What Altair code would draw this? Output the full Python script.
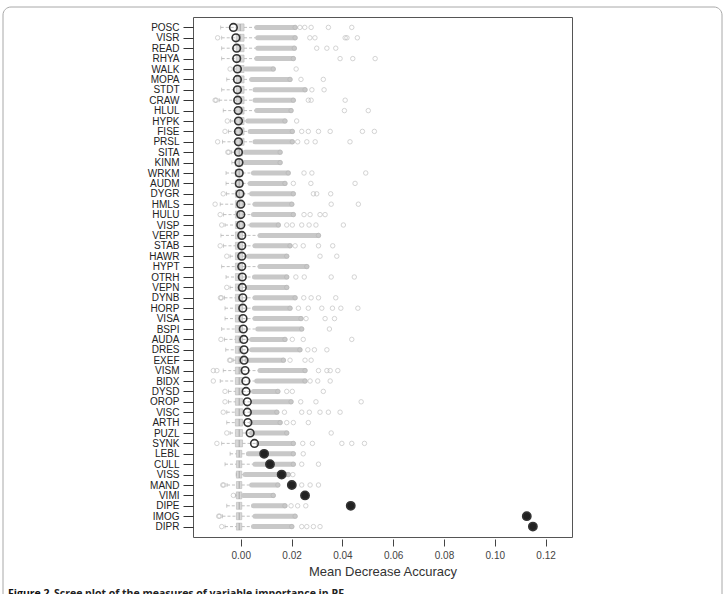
import altair as alt
import pandas as pd

# Variables, top to bottom
names = ["POSC", "VISR", "READ", "RHYA", "WALK", "MOPA", "STDT", "CRAW", "HLUL",
         "HYPK", "FISE", "PRSL", "SITA", "KINM", "WRKM", "AUDM", "DYGR", "HMLS",
         "HULU", "VISP", "VERP", "STAB", "HAWR", "HYPT", "OTRH", "VEPN", "DYNB",
         "HORP", "VISA", "BSPI", "AUDA", "DRES", "EXEF", "VISM", "BIDX", "DYSD",
         "OROP", "VISC", "ARTH", "PUZL", "SYNK", "LEBL", "CULL", "VISS", "MAND",
         "VIMI", "DIPE", "IMOG", "DIPR"]

# Observed importance (large circles); filled for the highlighted variables
observed = [-0.0029, -0.0019, -0.0016, -0.0016, -0.0013, -0.0013, -0.0013, -0.0012, -0.0010,
            -0.0009, -0.0009, -0.0009, -0.0009, -0.0007, -0.0006, -0.0006, -0.0003, 0.0000,
            0.0000, 0.0000, 0.0004, 0.0004, 0.0004, 0.0004, 0.0006, 0.0006, 0.0008,
            0.0008, 0.0009, 0.0010, 0.0012, 0.0013, 0.0013, 0.0017, 0.0020, 0.0021,
            0.0026, 0.0026, 0.0028, 0.0037, 0.0054, 0.0092, 0.0115, 0.0161, 0.0201,
            0.0253, 0.0433, 0.1126, 0.1150]
highlighted = ["LEBL", "CULL", "VISS", "MAND", "VIMI", "DIPE", "IMOG", "DIPR"]

# Box statistics of the permutation distributions
box_q1 = [-0.0018] * 12 + [-0.0021] * 29 + [-0.0017] * 8
box_median = [-0.0002] * 12 + [-0.0006] * 29 + [-0.0006] * 8
box_q3 = [0.0013] * 12 + [0.0007] * 29 + [0.0004] * 8

whisker_lo = [-0.0079, -0.0075, -0.0075, -0.0075, -0.0030, -0.0055, -0.0075, -0.0085, -0.0069,
              -0.0040, -0.0048, -0.0072, -0.0036, -0.0035, -0.0058, -0.0058, -0.0056, -0.0081,
              -0.0068, -0.0062, -0.0078, -0.0068, -0.0042, -0.0075, -0.0058, -0.0042, -0.0064,
              -0.0062, -0.0062, -0.0075, -0.0064, -0.0059, -0.0030, -0.0069, -0.0081, -0.0048,
              -0.0048, -0.0055, -0.0055, -0.0042, -0.0075, -0.0042, -0.0062, -0.0018, -0.0054,
              -0.0020, -0.0055, -0.0072, -0.0062]
whisker_hi = [0.0057, 0.0061, 0.0061, 0.0057, 0.0014, 0.0037, 0.0050, 0.0050, 0.0057,
              0.0022, 0.0031, 0.0050, 0.0014, 0.0014, 0.0044, 0.0031, 0.0037, 0.0050,
              0.0044, 0.0037, 0.0070, 0.0050, 0.0024, 0.0070, 0.0048, 0.0022, 0.0050,
              0.0048, 0.0050, 0.0061, 0.0037, 0.0037, 0.0018, 0.0070, 0.0057, 0.0044,
              0.0044, 0.0037, 0.0037, 0.0037, 0.0063, 0.0024, 0.0050, 0.0014, 0.0037,
              0.0014, 0.0044, 0.0050, 0.0044]

# Runs of overlapping high outliers
dense_lo = [0.0063, 0.0067, 0.0067, 0.0063, 0.0020, 0.0043, 0.0056, 0.0056, 0.0063,
            0.0028, 0.0037, 0.0056, 0.0017, 0.0014, 0.0050, 0.0037, 0.0043, 0.0056,
            0.0050, 0.0043, 0.0076, 0.0056, 0.0030, 0.0076, 0.0054, 0.0028, 0.0056,
            0.0054, 0.0056, 0.0067, 0.0043, 0.0043, 0.0024, 0.0076, 0.0063, 0.0050,
            0.0050, 0.0043, 0.0043, 0.0043, 0.0069, 0.0030, 0.0056, 0.0017, 0.0043,
            0.0010, 0.0050, 0.0056, 0.0050]
dense_hi = [0.0214, 0.0214, 0.0211, 0.0207, 0.0128, 0.0194, 0.0253, 0.0207, 0.0198,
            0.0174, 0.0203, 0.0203, 0.0155, 0.0155, 0.0187, 0.0174, 0.0207, 0.0201,
            0.0207, 0.0148, 0.0306, 0.0194, 0.0181, 0.0260, 0.0181, 0.0181, 0.0214,
            0.0194, 0.0237, 0.0240, 0.0174, 0.0233, 0.0168, 0.0253, 0.0253, 0.0146,
            0.0198, 0.0142, 0.0155, 0.0181, 0.0207, 0.0207, 0.0207, 0.0187, 0.0146,
            0.0128, 0.0174, 0.0214, 0.0201]

low_outliers = [[], [-0.0091], [], [], [-0.0042], [], [], [-0.0101, -0.0097], [],
                [-0.0053], [-0.0062], [-0.0091], [-0.0051, -0.0047], [], [], [], [-0.0069], [-0.0101],
                [-0.0081], [-0.0075], [], [-0.0081], [-0.0055], [], [], [-0.0055], [-0.0080, -0.0076],
                [], [], [], [-0.0078], [], [-0.0044, -0.0040], [-0.0108, -0.0094], [-0.0108], [-0.0062],
                [-0.0062], [-0.0069], [], [-0.0055], [-0.0094], [], [], [], [-0.0071, -0.0067],
                [-0.0029], [], [-0.0087, -0.0083], [-0.0075]]

high_outliers = [
    [0.0233, 0.0252, 0.0277, 0.0345, 0.0437],
    [0.0272, 0.0292, 0.0411, 0.0418, 0.0459],
    [0.0299, 0.0339, 0.0374],
    [0.0391, 0.0441, 0.0529],
    [0.0218],
    [0.0237, 0.0325],
    [0.0280, 0.0328],
    [0.0266, 0.0277, 0.0411],
    [0.0408, 0.0502],
    [0.0220],
    [0.0240, 0.0266, 0.0306, 0.0352, 0.0479, 0.0526],
    [0.0224, 0.0260, 0.0293, 0.0430],
    [],
    [],
    [0.0249, 0.0280, 0.0492],
    [0.0207, 0.0276, 0.0450],
    [0.0286, 0.0299, 0.0354],
    [0.0356, 0.0463],
    [0.0249, 0.0273, 0.0312, 0.0332],
    [0.0181, 0.0203, 0.0240, 0.0269, 0.0296, 0.0404],
    [],
    [0.0214, 0.0246, 0.0306, 0.0362],
    [0.0312, 0.0378],
    [],
    [0.0217, 0.0250, 0.0356, 0.0447],
    [],
    [0.0248, 0.0277, 0.0306, 0.0374],
    [0.0227, 0.0266, 0.0319, 0.0361, 0.0394, 0.0461],
    [0.0257, 0.0332, 0.0369],
    [0.0349],
    [0.0203, 0.0246, 0.0437],
    [0.0264, 0.0290, 0.0339],
    [0.0194, 0.0253, 0.0277],
    [0.0306, 0.0339, 0.0352, 0.0382],
    [0.0273, 0.0303, 0.0352],
    [0.0181, 0.0203, 0.0325],
    [0.0236, 0.0296, 0.0474],
    [0.0172, 0.0240, 0.0270, 0.0312, 0.0345, 0.0391],
    [0.0181, 0.0207, 0.0266],
    [0.0356],
    [0.0244, 0.0282, 0.0398, 0.0437, 0.0487],
    [0.0246],
    [0.0240, 0.0306],
    [0.0205],
    [0.0240, 0.0273, 0.0306],
    [],
    [0.0198, 0.0224, 0.0256],
    [],
    [0.0240, 0.0260, 0.0286, 0.0312],
]

x_ticks = [0.00, 0.02, 0.04, 0.06, 0.08, 0.10, 0.12]

rows = pd.DataFrame({
    "name": names, "observed": observed,
    "q1": box_q1, "median": box_median, "q3": box_q3,
    "lo": whisker_lo, "hi": whisker_hi,
    "dense_lo": dense_lo, "dense_hi": dense_hi,
})
rows["filled"] = rows["name"].isin(highlighted)

points = []
for n, lows, highs, end in zip(names, low_outliers, high_outliers, dense_hi):
    for v in lows + [end] + highs:
        points.append({"name": n, "value": v})
outliers = pd.DataFrame(points)

x_scale = alt.Scale(domain=[-0.0188, 0.1304], nice=False, zero=False)
y_axis = alt.Axis(title=None, domain=False, grid=False, tickSize=10, labelPadding=4,
                  labelFont="Liberation Sans", labelFontSize=10, labelColor="#222222",
                  tickColor="#333333")
x_axis = alt.Axis(values=x_ticks, format=".2f", title="Mean Decrease Accuracy",
                  domain=False, grid=False, tickSize=7, offset=2, labelPadding=4,
                  labelFont="Liberation Sans", labelFontSize=10, labelColor="#444444",
                  tickColor="#444444", titleFont="Liberation Sans", titleFontSize=13,
                  titleFontWeight="normal", titleColor="#333333", titlePadding=5)
y_enc = alt.Y("name:N", sort=names, scale=alt.Scale(type="point", padding=2.42), axis=y_axis)


def xq(field):
    return alt.X(field, type="quantitative", scale=x_scale, axis=x_axis)


grey_line = "#b0b0b0"

boxes = alt.Chart(rows).mark_bar(size=7, color="#d8d8d8", stroke="#b8b8b8", strokeWidth=0.6).encode(
    x=xq("q1"), x2="q3:Q", y=y_enc)
medians = alt.Chart(rows).mark_tick(size=7, thickness=1.2, color="#a0a0a0", orient="vertical").encode(
    x=xq("median"), y=y_enc)
whisk_low = alt.Chart(rows).mark_rule(strokeDash=[3, 2], color=grey_line, strokeWidth=0.8).encode(
    x=xq("lo"), x2="q1:Q", y=y_enc)
whisk_high = alt.Chart(rows).mark_rule(strokeDash=[3, 2], color=grey_line, strokeWidth=0.8).encode(
    x=xq("q3"), x2="hi:Q", y=y_enc)
caps = alt.Chart(rows).mark_tick(size=4, thickness=0.8, color="#a8a8a8", orient="vertical").encode(
    x=xq("lo"), y=y_enc)
bands = alt.Chart(rows).mark_rule(strokeWidth=5, strokeCap="round", color="#c8c8c8").encode(
    x=xq("dense_lo"), x2="dense_hi:Q", y=y_enc)
outlier_pts = alt.Chart(outliers).mark_point(
    shape="circle", size=20, strokeWidth=0.8, color="#b2b2b2", filled=False).encode(
    x=xq("value"), y=y_enc)
obs = alt.Chart(rows).mark_point(shape="circle", strokeWidth=1.6, filled=True).encode(
    x=xq("observed"), y=y_enc,
    fill=alt.condition("datum.filled", alt.value("#222222"), alt.value("transparent")),
    size=alt.condition("datum.filled", alt.value(68), alt.value(58)),
    stroke=alt.value("#333333"),
    opacity=alt.value(1),
)

one = pd.DataFrame({"k": [0]})
outer_frame = alt.Chart(one).mark_rect(
    fill="transparent", stroke="#a8a8a8", strokeWidth=1, cornerRadius=8).encode(
    x=alt.value(-190), x2=alt.value(529), y=alt.value(-10), y2=alt.value(600))
cap_fig = alt.Chart(one).mark_text(
    align="left", baseline="alphabetic", font="Open Sans", fontSize=10.5, fontWeight="bold",
    color="#111111").encode(x=alt.value(-185), y=alt.value(580), text=alt.value("Figure 2"))
cap_text = alt.Chart(one).mark_text(
    align="left", baseline="alphabetic", font="Open Sans", fontSize=10.5, fontWeight="bold",
    color="#222222").encode(
    x=alt.value(-139), y=alt.value(580),
    text=alt.value("Scree plot of the measures of variable importance in RF."))

chart = alt.layer(
    outer_frame, boxes, medians, whisk_low, whisk_high, caps, bands, outlier_pts, obs,
    cap_fig, cap_text,
).properties(
    width=379, height=520,
    autosize=alt.AutoSizeParams(type="none"),
    padding={"left": 193, "top": 17, "right": 152, "bottom": 57},
).configure_view(
    stroke="#555555", strokeWidth=1,
)

chart.save("out.html", embed_options={"renderer": "svg", "actions": False})
